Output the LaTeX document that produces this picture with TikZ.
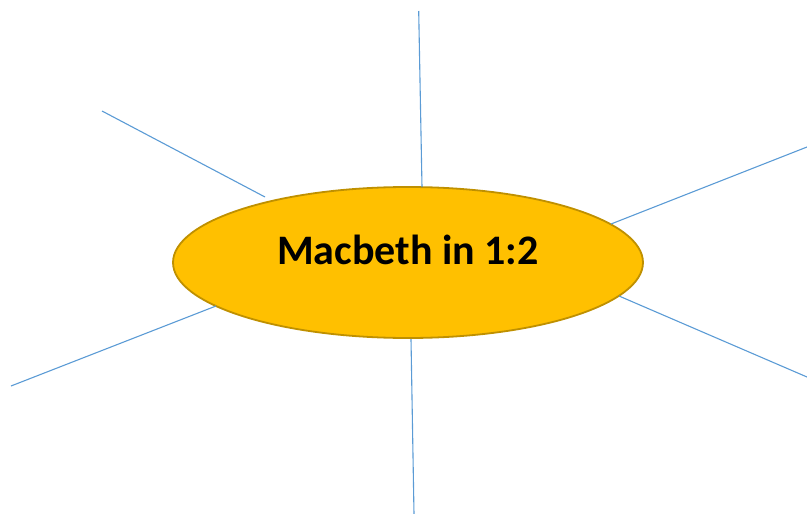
\documentclass[tikz,border=0pt]{standalone}
\usepackage{fontspec}
\setmainfont{Carlito}
\usetikzlibrary{shapes.geometric}
\definecolor{topicfill}{HTML}{FFC000}
\definecolor{topicline}{HTML}{BF9000}
\definecolor{spokeblue}{HTML}{5B9BD5}
\tikzstyle{topic}=[ellipse, draw=topicline, line width=1.8pt, fill=topicfill, minimum width=470pt, minimum height=151pt, inner sep=0pt]
\tikzstyle{topic label}=[font=\fontsize{42}{48}\selectfont\bfseries]
\tikzstyle{spoke}=[draw=spokeblue, line width=1.1pt]

\begin{document}
\begin{tikzpicture}[x=1pt, y=-1pt]
          \useasboundingbox (0, 0) rectangle (807, 514);
          \node[topic] (topic) at (408, 262.5) {};
          \node[topic label, yshift=13pt] (title) at (topic) {Macbeth in 1:2};

          \coordinate (top_out) at (418.7, 11);
          \coordinate (top_in) at (422, 187);
          \coordinate (ul_out) at (102, 111);
          \coordinate (ul_in) at (265, 197);
          \coordinate (ur_out) at (807, 147);
          \coordinate (ur_in) at (611, 224);
          \coordinate (ll_out) at (11, 386);
          \coordinate (ll_in) at (216, 306);
          \coordinate (lr_out) at (807, 377);
          \coordinate (lr_in) at (619, 296);
          \coordinate (bot_out) at (414, 514);
          \coordinate (bot_in) at (411, 339);

          \draw[spoke] (top_out) to (top_in);
          \draw[spoke] (ul_out) to (ul_in);
          \draw[spoke] (ur_out) to (ur_in);
          \draw[spoke] (ll_out) to (ll_in);
          \draw[spoke] (lr_out) to (lr_in);
          \draw[spoke] (bot_out) to (bot_in);
        \end{tikzpicture}
\end{document}
